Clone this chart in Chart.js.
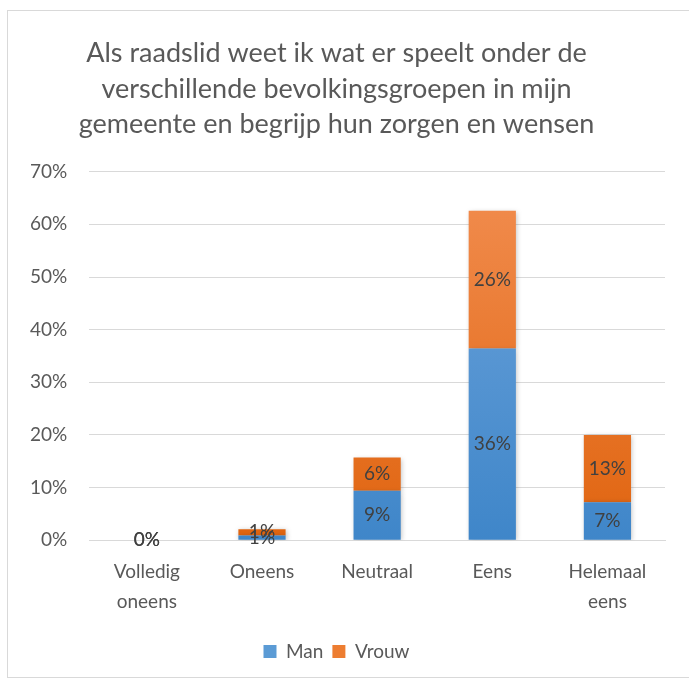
<!DOCTYPE html>
<html><head><meta charset="utf-8">
<script src="https://cdn.jsdelivr.net/npm/chart.js@4"></script>
<style>
html,body{margin:0;padding:0;background:#fff;overflow:hidden;}
#wrap{position:absolute;left:7px;top:10px;width:690px;height:668px;border:1px solid #d9d9d9;box-sizing:border-box;background:#fff;}
</style></head>
<body>
<div id="wrap"><canvas id="c"></canvas></div>
<script>
const titleLines = ["Als raadslid weet ik wat er speelt onder de","verschillende bevolkingsgroepen in mijn","gemeente en begrijp hun zorgen en wensen"];
const categories = [["Volledig","oneens"],"Oneens","Neutraal","Eens",["Helemaal","eens"]];
const manValues = [0, 0.9, 9.4, 36.4, 7.2];
const vrouwValues = [0, 1.2, 6.3, 26.2, 12.8];
const seriesNames = ["Man","Vrouw"];
const yTicksMax = 70;

const FONT = "Lato, 'Open Sans', sans-serif";
const TXT = "#595959";

function grad(ctx, top, bottom){
  const ch = ctx.chart; const a = ch.chartArea;
  if(!a) return top;
  const el = ctx.element;
  let y0 = a.top, y1 = a.bottom;
  if (el && el.y !== undefined && el.base !== undefined && Math.abs(el.base-el.y)>1){ y0 = Math.min(el.y, el.base); y1 = Math.max(el.y, el.base); }
  const g = ch.ctx.createLinearGradient(0, y0, 0, y1);
  g.addColorStop(0, top); g.addColorStop(1, bottom);
  return g;
}

const labelPlugin = {
  id:'barLabels',
  afterDatasetsDraw(chart){
    const ctx = chart.ctx;
    ctx.save();
    ctx.font = "19px " + FONT;
    ctx.fillStyle = "#404040";
    ctx.textAlign = "center";
    ctx.textBaseline = "middle";
    chart.data.datasets.forEach((ds, di) => {
      const meta = chart.getDatasetMeta(di);
      meta.data.forEach((bar, i) => {
        const v = ds.data[i];
        const y = (bar.y + bar.base) / 2;
        ctx.fillText(Math.round(v) + "%", bar.x, y);
      });
    });
    ctx.restore();
  }
};

const shadowPlugin = {
  id:'barShadow',
  beforeDatasetsDraw(chart){ const c=chart.ctx; c.save(); c.shadowColor='rgba(0,0,0,0.25)'; c.shadowBlur=5; c.shadowOffsetX=1; c.shadowOffsetY=1; },
  afterDatasetsDraw(chart){ chart.ctx.restore(); }
};

new Chart(document.getElementById('c'), {
  type:'bar',
  data:{
    labels: categories,
    datasets:[
      {label: seriesNames[0], data: manValues, backgroundColor: ctx => grad(ctx, '#6fa5dc', '#3f86c9'), borderWidth:0},
      {label: seriesNames[1], data: vrouwValues, backgroundColor: ctx => grad(ctx, '#f28e51', '#e0640f'), borderWidth:0}
    ]
  },
  options:{
    responsive:true, maintainAspectRatio:false, animation:false,
    layout:{padding:{left:0,right:31,top:16,bottom:6}},
    datasets:{bar:{categoryPercentage:1, barPercentage:0.41}},
    plugins:{
      title:{display:true, text:titleLines, color:TXT, font:{family:FONT, size:27, weight:'normal', lineHeight:1.33}, padding:{top:8,bottom:29}},
      legend:{position:'bottom', labels:{color:TXT, font:{family:FONT,size:19}, boxWidth:13, boxHeight:13, padding:9,
        generateLabels(chart){ const cols=['#5b9bd5','#ed7d31']; return chart.data.datasets.map((d,i)=>({text:d.label, fillStyle:cols[i], strokeStyle:cols[i], lineWidth:0, datasetIndex:i, fontColor:TXT})); }}},
      tooltip:{enabled:false}
    },
    scales:{
      x:{stacked:true, grid:{display:false, drawTicks:false}, border:{display:true, color:'#d9d9d9', width:1},
         ticks:{color:TXT, font:{family:FONT,size:19, lineHeight:1.6}, padding:16, maxRotation:0}},
      y:{stacked:true, min:0, max:yTicksMax, grid:{color:'#d9d9d9', drawTicks:false}, border:{display:false},
         ticks:{stepSize:10, color:TXT, font:{family:FONT,size:19}, padding:22, callback:v=>v+'%'}}
    }
  },
  plugins:[shadowPlugin, labelPlugin]
});
</script>
</body></html>
